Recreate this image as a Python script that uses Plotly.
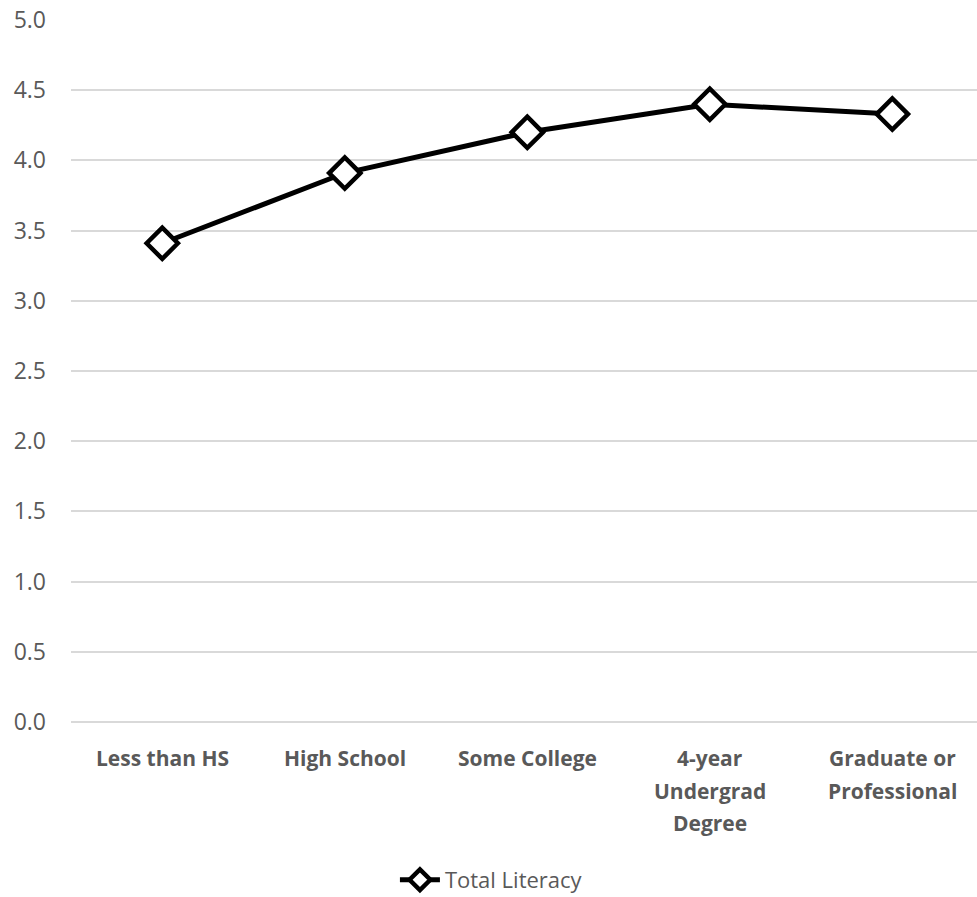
import plotly.graph_objects as go

# Education levels and average total literacy score
categories = ["Less than HS", "High School", "Some College",
              "4-year Undergrad Degree", "Graduate or Professional"]
label_lines = [["Less than HS"], ["High School"], ["Some College"],
               ["4-year", "Undergrad", "Degree"], ["Graduate or", "Professional"]]
total_literacy = [3.41, 3.91, 4.20, 4.40, 4.33]
y_ticks = [0.0, 0.5, 1.0, 1.5, 2.0, 2.5, 3.0, 3.5, 4.0, 4.5, 5.0]

GREY = "#595959"
GRID = "#d9d9d9"
FONT = "Open Sans"

fig = go.Figure()
fig.add_trace(go.Scatter(
    x=list(range(len(categories))),
    y=total_literacy,
    mode="lines+markers",
    name="Total Literacy",
    line=dict(color="black", width=5),
    marker=dict(symbol="diamond", size=24, color="white",
                line=dict(color="black", width=4.5)),
    cliponaxis=False,
))

# Category labels, one annotation per text line
for i, lines in enumerate(label_lines):
    for j, txt in enumerate(lines):
        fig.add_annotation(
            x=i, y=0, xref="x", yref="y",
            text=f"<b>{txt}</b>", showarrow=False,
            xanchor="center", yanchor="middle",
            yshift=-36 - 32.5 * j,
            font=dict(family=FONT, size=21, color=GREY),
        )

fig.update_layout(
    width=977, height=897,
    margin=dict(l=71, r=0, t=20, b=175),
    paper_bgcolor="white", plot_bgcolor="white",
    showlegend=True,
    legend=dict(orientation="h", xref="container", yref="container",
                x=0.503, y=0.019, xanchor="center", yanchor="middle",
                font=dict(family=FONT, size=22, color=GREY),
                itemwidth=40),
    font=dict(family=FONT, color=GREY),
)
fig.update_xaxes(
    range=[-0.5, 4.464], showgrid=False, zeroline=False,
    showticklabels=False, showline=False, ticks="",
)
fig.update_yaxes(
    range=[0, 5], tickvals=y_ticks, ticktext=[f"{v:.1f}" for v in y_ticks],
    showgrid=True, gridcolor=GRID, gridwidth=1.5,
    zeroline=True, zerolinecolor=GRID, zerolinewidth=1.5,
    showline=False, ticks="",
    tickfont=dict(family=FONT, size=23, color=GREY),
    ticklabelstandoff=24,
)

fig.write_html("out.html")
